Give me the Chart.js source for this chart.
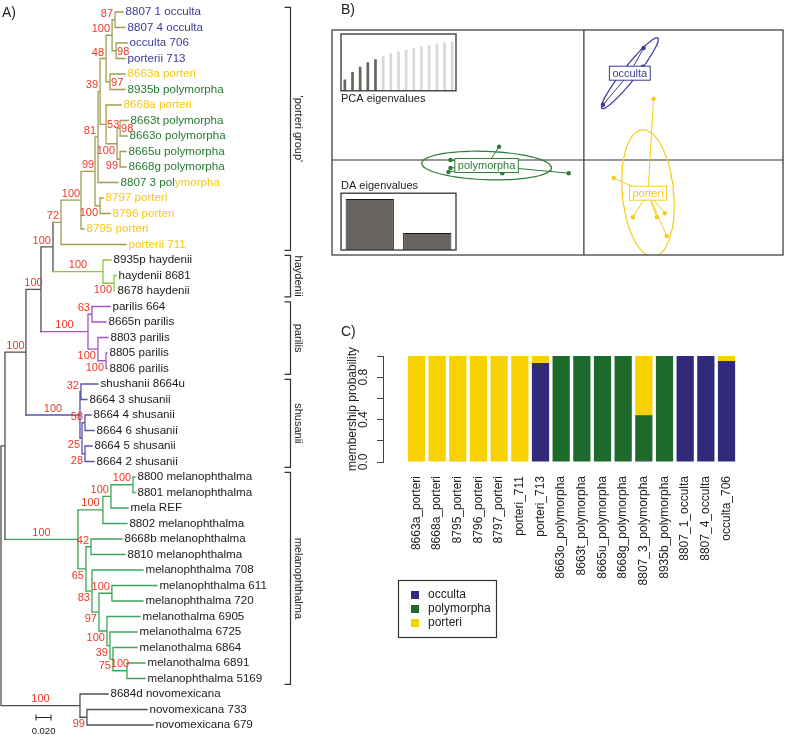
<!DOCTYPE html>
<html lang="en">
<head>
<meta charset="UTF-8">
<title>Tree, DAPC and membership</title>
<script src="https://cdn.jsdelivr.net/npm/chart.js"></script>
<style>
  body { margin: 0; background: #fff; }
  #page { position: relative; width: 787px; height: 738px; overflow: hidden; font-family: "Liberation Sans", Arial, sans-serif; }
  #page canvas { position: absolute; }
  .panel-tag { position: absolute; font-size: 14px; line-height: 14px; color: #222; }
</style>
</head>
<body>
<div id="page">
  <canvas id="treeChart" width="330" height="738" style="left:0;top:0"></canvas>
  <canvas id="dapcChart" width="487" height="290" style="left:300px;top:0"></canvas>
  <canvas id="pcaChart" width="117" height="74" style="left:340px;top:33px"></canvas>
  <canvas id="daChart" width="117" height="75" style="left:340px;top:176px"></canvas>
  <canvas id="memberChart" width="487" height="448" style="left:300px;top:290px"></canvas>
  <div class="panel-tag" style="left:2px;top:5px">A)</div>
  <div class="panel-tag" style="left:341px;top:2px">B)</div>
  <div class="panel-tag" style="left:341px;top:324px">C)</div>
</div>

<script>
// ---------- A) tree, newick by clade (branch lengths, bootstrap as node label) ----------
const cladePorteri = "((((((((8807_1_occulta:0.0107,8807_4_occulta:0.0133)87:0.004,(occulta_706:0.0147,porterii_713:0.012)98:0.0053)100:0.008,(8663a_porteri:0.02,8935b_polymorpha:0.02)97:0.0053)48:0.008,(8668a_porteri:0.02,((8663t_polymorpha:0.0107,8663o_polymorpha:0.0093)98:0.004,(8665u_polymorpha:0.008,8668g_polymorpha:0.008)99:0.004)100:0.0147)53:0.008)39:0.0027,8807_3_polymorpha:0.0267)81:0.004,(8797_porteri:0.004,8796_porteri:0.0133)100:0.0067)99:0.0187,8795_porteri:0.004)100:0.0267,porterii_711:0.0867)72:0.0107";
const cladeHaydenii = "(8935p_haydenii:0.0107,(haydenii_8681:0.0027,8678_haydenii:0.0013)100:0.0147)100:0.0667";
const cladeParilis = "((parilis_664:0.024,8665n_parilis:0.0187)63:0.0053,(8803_parilis:0.0133,(8805_parilis:0.0013,8806_parilis:0.0013)100:0.0107)100:0.0133)100:0.0627";
const cladeShusanii = "((shushanii_8664u:0.0227,8664_3_shusanii:0.008)32:0.0013,((8664_4_shusanii:0.008,8664_6_shusanii:0.012)58:0.004,(8664_5_shusanii:0.0093,8664_2_shusanii:0.012)28:0.004)25:0.0027)100:0.072";
const cladeMelano = "((((8800_melanophthalma:0.0027,8801_melanophthalma:0.0027)100:0.0293,mela_REF:0.0227)100:0.0107,8802_melanophthalma:0.032)100:0.0333,((8668b_melanophthalma:0.0413,8810_melanophthalma:0.0453)42:0.0067,(melanophthalma_708:0.068,((melanophthalma_611:0.06,melanophthalma_720:0.0413)100:0.0173,(melanothalma_6905:0.044,(melanothalma_6725:0.036,(melanothalma_6864:0.032,(melanothalma_6891:0.024,melanophthalma_5169:0.024)100:0.0187)75:0.004)39:0.004)100:0.0107)97:0.0093)83:0.008)65:0.0107)100:0.0973";
const cladeNovo = "(8684d_novomexicana:0.0373,(novomexicana_733:0.08,novomexicana_679:0.088)99:0.0093)100:0.1053";
const treeNewick = `(((((${cladePorteri},${cladeHaydenii})100:0.016,${cladeParilis})100:0.02,${cladeShusanii})100:0.028,${cladeMelano}):0.0053,${cladeNovo});`;

// bracketed clades on the right
const cladeNames = ["'porteri group'", 'haydenii', 'parilis', 'shusanii', 'melanophthalma'];
const cladeFirstTip = ['8807 1 occulta', '8935p haydenii', 'parilis 664', 'shushanii 8664u', '8800 melanophthalma'];
const cladeLastTip = ['porterii 711', '8678 haydenii', '8806 parilis', '8664 2 shusanii', 'melanophthalma 5169'];

// tip labels coloured by DAPC group
const tipsOcculta = ['8807 1 occulta', '8807 4 occulta', 'occulta 706', 'porterii 713'];
const tipsPolymorpha = ['8935b polymorpha', '8663t polymorpha', '8663o polymorpha', '8665u polymorpha', '8668g polymorpha', '8807 3 polymorpha'];
const tipsPorteri = ['8663a porteri', '8668a porteri', '8797 porteri', '8796 porteri', '8795 porteri', 'porterii 711'];

const scaleBarLength = 0.020;

// ---------- B) DAPC scatter ----------
const dapcGroups = ['occulta', 'polymorpha', 'porteri'];
const occultaLD1 = [1.50, 0.48, 1.48];
const occultaLD2 = [2.80, 1.38, 2.33];
const polymorphaLD1 = [-2.13, -3.35, -3.35, -3.40, -2.05, -0.38];
const polymorphaLD2 = [0.33, 0.00, -0.20, -0.30, -0.33, -0.33];
const porteriLD1 = [1.75, 0.75, 1.23, 1.83, 2.03, 2.08, 1.60];
const porteriLD2 = [1.53, -0.45, -1.43, -1.43, -1.33, -1.90, -0.80];
const pcaEig = [21.4, 36.6, 46.6, 55.4, 61.4, 68, 73.4, 76.6, 80, 83.4, 86.6, 89.4, 92, 94.6, 96.6];
const pcaRetained = 5;
const daEig = [42.1, 14.0];

// ---------- C) membership probabilities ----------
const sampleNames = ['8663a_porteri', '8668a_porteri', '8795_porteri', '8796_porteri', '8797_porteri', 'porteri_711', 'porteri_713',
  '8663o_polymorpha', '8663t_polymorpha', '8665u_polymorpha', '8668g_polymorpha', '8807_3_polymorpha', '8935b_polymorpha',
  '8807_1_occulta', '8807_4_occulta', 'occulta_706'];
const probOcculta    = [0, 0, 0.006, 0, 0, 0, 0.935, 0, 0, 0, 0, 0.01, 0, 1, 1, 0.953];
const probPolymorpha = [0, 0, 0, 0, 0, 0, 0, 1, 1, 1, 1, 0.432, 1, 0, 0, 0];
const probPorteri    = [1, 1, 0.994, 1, 1, 1, 0.065, 0, 0, 0, 0, 0.558, 0, 0, 0, 0.047];
const yTickValues = [0, 0.2, 0.4, 0.6, 0.8, 1.0];
const yLabelValues = [0, 0.4, 0.8];

// ---------- styles ----------
const FONT = '"Liberation Sans", Arial, sans-serif';
Chart.defaults.font.family = FONT;
Chart.defaults.color = '#222';
const branchColors = ['#a19d52', '#8cc83e', '#a652c2', '#5656a8', '#3ca55a'];
const backboneColor = '#505050';
const groupColors = { occulta: '#3d3a9b', polymorpha: '#2e7c36', porteri: '#f6cd1c' };
const tipColors = { occulta: '#3d3a9b', polymorpha: '#267a31', porteri: '#f7c80f' };
const barColors = { occulta: '#31297b', polymorpha: '#1c6b2c', porteri: '#f8d102' };
const supportColor = '#ee3626';

// ---------- tree parsing and layout ----------
function parseNewick(s) {
  let i = 0;
  function node() {
    const n = { kids: [] };
    if (s[i] === '(') {
      i++;
      n.kids.push(node());
      while (s[i] === ',') { i++; n.kids.push(node()); }
      i++;
    }
    let lab = '';
    while (i < s.length && !':,);'.includes(s[i])) lab += s[i++];
    n.len = 0;
    if (s[i] === ':') {
      i++;
      let num = '';
      while (i < s.length && !',);'.includes(s[i])) num += s[i++];
      n.len = parseFloat(num);
    }
    if (n.kids.length) n.support = lab ? Number(lab) : null;
    else n.name = lab.replace(/_/g, ' ');
    return n;
  }
  return node();
}

const tree = parseNewick(treeNewick);
const tips = [];
const nodes = [];
(function layout(n, parentX, isFirst) {
  n.parentX = parentX;
  n.x = parentX + n.len;
  n.isFirst = isFirst;
  if (!n.kids.length) {
    n.y = n.lo = n.hi = tips.length;
    tips.push(n);
  } else {
    n.kids.forEach((k, i) => layout(k, n.x, i === 0));
    const a = n.kids[0], b = n.kids[n.kids.length - 1];
    n.y = (a.y + b.y) / 2;
    n.lo = a.lo; n.hi = b.hi;
  }
  nodes.push(n);
})(tree, 0, true);

const tipIndex = name => tips.findIndex(t => t.name === name);
const cladeRanges = cladeNames.map((c, i) => ({ lo: tipIndex(cladeFirstTip[i]), hi: tipIndex(cladeLastTip[i]) }));
function nodeColor(n) {
  const c = cladeRanges.findIndex(r => n.lo >= r.lo && n.hi <= r.hi);
  return c < 0 ? backboneColor : branchColors[c];
}
function tipColor(name) {
  if (tipsOcculta.includes(name)) return tipColors.occulta;
  if (tipsPolymorpha.includes(name)) return tipColors.polymorpha;
  if (tipsPorteri.includes(name)) return tipColors.porteri;
  return '#1a1a1a';
}

const segByColor = {};
nodes.forEach(n => {
  const col = nodeColor(n);
  const arr = segByColor[col] = segByColor[col] || [];
  if (n !== tree) arr.push({ x: n.parentX, y: n.y }, { x: n.x, y: n.y }, { x: null, y: null });
  if (n.kids.length) arr.push({ x: n.x, y: n.kids[0].y }, { x: n.x, y: n.kids[n.kids.length - 1].y }, { x: null, y: null });
});

function overlaps(a, list) {
  return list.some(b => a.l < b.r && a.r > b.l && a.t < b.b && a.b > b.t);
}

const treeText = {
  id: 'treeText',
  afterDatasetsDraw(chart) {
    const { ctx, scales: { x, y } } = chart;
    ctx.save();
    // tip labels
    ctx.font = `11.6px ${FONT}`;
    ctx.textBaseline = 'middle';
    ctx.textAlign = 'left';
    tips.forEach(t => {
      const px = x.getPixelForValue(t.x) + 2.5, py = y.getPixelForValue(t.y);
      if (t.name === '8807 3 polymorpha') {
        const head = t.name.slice(0, 10);
        ctx.fillStyle = tipColors.polymorpha;
        ctx.fillText(head, px, py);
        ctx.fillStyle = tipColors.porteri;
        ctx.fillText(t.name.slice(10), px + ctx.measureText(head).width, py);
      } else {
        ctx.fillStyle = tipColor(t.name);
        ctx.fillText(t.name, px, py);
      }
    });
    // bootstrap values: centred on long branches, else beside the node avoiding earlier labels
    ctx.font = `11px ${FONT}`;
    ctx.fillStyle = supportColor;
    const placed = [];
    nodes.slice().reverse().forEach(n => {
      if (!n.kids.length || n.support == null || n === tree) return;
      const txt = String(n.support);
      const w = ctx.measureText(txt).width;
      const xn = x.getPixelForValue(n.x), xp = x.getPixelForValue(n.parentX), yn = y.getPixelForValue(n.y);
      let cx, cy, align;
      if (xn - xp >= 14) {
        cx = (xn + xp) / 2; cy = yn - 6.5; align = 'center';
        placed.push({ l: cx - w / 2, r: cx + w / 2, t: cy - 5, b: cy + 5 });
      } else {
        cy = n.isFirst ? yn - 6 : yn + 7;
        const box = { l: xn - 2 - w, r: xn - 2, t: cy - 5, b: cy + 5 };
        if (overlaps(box, placed)) {
          cx = xn + 1; cy = yn + 1; align = 'left';
          placed.push({ l: cx, r: cx + w, t: cy - 5, b: cy + 5 });
        } else {
          cx = xn - 2; align = 'right';
          placed.push(box);
        }
      }
      ctx.textAlign = align;
      ctx.fillText(txt, cx, cy);
    });
    // clade brackets
    ctx.strokeStyle = '#333';
    ctx.lineWidth = 1.2;
    ctx.fillStyle = '#222';
    ctx.textAlign = 'center';
    ctx.font = `11px ${FONT}`;
    cladeRanges.forEach((r, i) => {
      const y0 = y.getPixelForValue(r.lo - 0.3), y1 = y.getPixelForValue(r.hi + 0.38);
      const bx = 290.5;
      ctx.beginPath();
      ctx.moveTo(bx - 6, y0); ctx.lineTo(bx, y0); ctx.lineTo(bx, y1); ctx.lineTo(bx - 6, y1);
      ctx.stroke();
      ctx.save();
      ctx.translate(298, (y0 + y1) / 2);
      ctx.rotate(Math.PI / 2);
      ctx.fillText(cladeNames[i], 0, 0);
      ctx.restore();
    });
    // scale bar
    const sx0 = x.getPixelForValue(0.0467), sx1 = x.getPixelForValue(0.0467 + scaleBarLength);
    const sy = 717.5;
    ctx.strokeStyle = '#222';
    ctx.lineWidth = 1;
    ctx.beginPath();
    ctx.moveTo(sx0, sy); ctx.lineTo(sx1, sy);
    ctx.moveTo(sx0, sy - 3); ctx.lineTo(sx0, sy + 3);
    ctx.moveTo(sx1, sy - 3); ctx.lineTo(sx1, sy + 3);
    ctx.stroke();
    ctx.font = `9.5px ${FONT}`;
    ctx.fillText(scaleBarLength.toFixed(3), (sx0 + sx1) / 2, 731);
    ctx.restore();
  }
};

new Chart(document.getElementById('treeChart'), {
  type: 'line',
  data: {
    datasets: Object.keys(segByColor).map(col => ({
      data: segByColor[col],
      borderColor: col,
      borderWidth: 1.3,
      borderCapStyle: 'square',
      pointRadius: 0,
      spanGaps: false,
      tension: 0
    }))
  },
  options: {
    responsive: false,
    animation: false,
    layout: { padding: 0 },
    plugins: { legend: { display: false }, tooltip: { enabled: false } },
    scales: {
      x: { type: 'linear', display: false, min: -0.00133, max: 0.43867 },
      y: { type: 'linear', display: false, reverse: true, min: -0.774, max: 46.84 }
    }
  },
  plugins: [treeText]
});

// ---------- B) DAPC scatter ----------
function covEllipse(xs, ys, coeff) {
  const n = xs.length;
  const mx = xs.reduce((a, b) => a + b, 0) / n, my = ys.reduce((a, b) => a + b, 0) / n;
  let vx = 0, vy = 0, cxy = 0;
  for (let i = 0; i < n; i++) {
    const dx = xs[i] - mx, dy = ys[i] - my;
    vx += dx * dx; vy += dy * dy; cxy += dx * dy;
  }
  vx /= n; vy /= n; cxy /= n;
  const delta = Math.sqrt((vx - vy) * (vx - vy) + 4 * cxy * cxy);
  const l1 = Math.sqrt(Math.max((vx + vy + delta) / 2, 0));
  const l2 = Math.sqrt(Math.max((vx + vy - delta) / 2, 0));
  let a0, b0;
  if (Math.abs(cxy) < 1e-10) { a0 = vx > vy ? 1 : 0; b0 = vx > vy ? 0 : 1; }
  else { a0 = 1; b0 = (l1 * l1 - vx) / cxy; const nr = Math.hypot(a0, b0); a0 /= nr; b0 /= nr; }
  const pts = [];
  for (let i = 0; i <= 100; i++) {
    const t = 2 * Math.PI * i / 100, c = Math.cos(t), s = Math.sin(t);
    pts.push({ x: mx + coeff * (a0 * l1 * c - b0 * l2 * s), y: my + coeff * (b0 * l1 * c + a0 * l2 * s) });
  }
  return { mx, my, pts };
}

const groupLD = {
  occulta: [occultaLD1, occultaLD2],
  polymorpha: [polymorphaLD1, polymorphaLD2],
  porteri: [porteriLD1, porteriLD2]
};
const groupGeom = {};
const dapcDatasets = [];
dapcGroups.forEach(g => {
  const [xs, ys] = groupLD[g];
  const e = covEllipse(xs, ys, 1.5);
  groupGeom[g] = e;
  const star = [];
  xs.forEach((v, i) => star.push({ x: e.mx, y: e.my }, { x: v, y: ys[i] }, { x: null, y: null }));
  dapcDatasets.push(
    { data: e.pts, borderColor: groupColors[g], borderWidth: 1.2, pointRadius: 0, tension: 0 },
    { data: star, borderColor: groupColors[g], borderWidth: 1, pointRadius: 0, spanGaps: false, tension: 0 },
    { data: xs.map((v, i) => ({ x: v, y: ys[i] })), showLine: false, pointRadius: 2.2,
      pointBackgroundColor: groupColors[g], pointBorderWidth: 0 }
  );
});

const dapcDecor = {
  id: 'dapcDecor',
  beforeDatasetsDraw(chart) {
    const { ctx, chartArea: a, scales: { x, y } } = chart;
    ctx.save();
    ctx.fillStyle = '#fff';
    ctx.fillRect(a.left, a.top, a.width, a.height);
    ctx.strokeStyle = '#333';
    ctx.lineWidth = 1.2;
    const x0 = x.getPixelForValue(0), y0 = y.getPixelForValue(0);
    ctx.beginPath();
    ctx.moveTo(x0, a.top); ctx.lineTo(x0, a.bottom);
    ctx.moveTo(a.left, y0); ctx.lineTo(a.right, y0);
    ctx.stroke();
    ctx.restore();
  },
  afterDatasetsDraw(chart) {
    const { ctx, chartArea: a, scales: { x, y } } = chart;
    ctx.save();
    ctx.strokeStyle = '#333';
    ctx.lineWidth = 1.2;
    ctx.strokeRect(a.left, a.top, a.width, a.height);
    ctx.font = `11px ${FONT}`;
    ctx.textAlign = 'center';
    ctx.textBaseline = 'middle';
    dapcGroups.forEach(g => {
      const cx = x.getPixelForValue(groupGeom[g].mx), cy = y.getPixelForValue(groupGeom[g].my);
      const w = ctx.measureText(g).width + 6, h = 14;
      ctx.fillStyle = '#fff';
      ctx.fillRect(cx - w / 2, cy - h / 2, w, h);
      ctx.strokeStyle = groupColors[g];
      ctx.lineWidth = 1;
      ctx.strokeRect(cx - w / 2, cy - h / 2, w, h);
      ctx.fillStyle = groupColors[g];
      ctx.fillText(g, cx, cy + 0.5);
    });
    ctx.restore();
  }
};

new Chart(document.getElementById('dapcChart'), {
  type: 'line',
  data: { datasets: dapcDatasets },
  options: {
    responsive: false,
    animation: false,
    layout: { padding: { left: 32, top: 30, right: 2, bottom: 35 } },
    plugins: { legend: { display: false }, tooltip: { enabled: false } },
    scales: {
      x: { type: 'linear', display: false, min: -6.325, max: 5.0 },
      y: { type: 'linear', display: false, min: -2.375, max: 3.25 }
    }
  },
  plugins: [dapcDecor]
});

// inset frames
const insetFrame = {
  id: 'insetFrame',
  beforeDatasetsDraw(chart) {
    const { ctx, chartArea: a } = chart;
    ctx.save();
    ctx.fillStyle = '#fff';
    ctx.fillRect(a.left, a.top, a.width, a.height);
    ctx.restore();
  },
  afterDatasetsDraw(chart) {
    const { ctx, chartArea: a } = chart;
    ctx.save();
    ctx.strokeStyle = '#333';
    ctx.lineWidth = 1.3;
    ctx.strokeRect(a.left, a.top, a.width, a.height);
    ctx.restore();
  }
};

new Chart(document.getElementById('pcaChart'), {
  type: 'bar',
  data: {
    labels: pcaEig.map((v, i) => String(i + 1)),
    datasets: [{
      data: pcaEig,
      backgroundColor: pcaEig.map((v, i) => i < pcaRetained ? '#69635e' : '#d8d8d8'),
      barThickness: 2
    }]
  },
  options: {
    responsive: false,
    animation: false,
    layout: { padding: { top: 1, left: 1, right: 1, bottom: 0 } },
    plugins: {
      legend: { display: false }, tooltip: { enabled: false },
      title: { display: true, text: 'PCA eigenvalues', position: 'bottom', align: 'start',
               font: { size: 11, weight: 'normal' }, color: '#222', padding: { top: 2, bottom: 1 } }
    },
    scales: {
      x: { display: false, offset: true },
      y: { display: false, min: 0, max: 112 }
    }
  },
  plugins: [insetFrame]
});

new Chart(document.getElementById('daChart'), {
  type: 'bar',
  data: {
    labels: daEig.map((v, i) => String(i + 1)),
    datasets: [{
      data: daEig,
      backgroundColor: '#6a6460',
      borderColor: '#1a1a1a',
      borderWidth: 1,
      barPercentage: 0.84,
      categoryPercentage: 1
    }]
  },
  options: {
    responsive: false,
    animation: false,
    layout: { padding: { top: 0, left: 1, right: 1, bottom: 1 } },
    plugins: {
      legend: { display: false }, tooltip: { enabled: false },
      title: { display: true, text: 'DA eigenvalues', position: 'top', align: 'start',
               font: { size: 11, weight: 'normal' }, color: '#222', padding: { top: 3, bottom: 1 } }
    },
    scales: {
      x: { display: false },
      y: { display: false, min: 0, max: 47 }
    }
  },
  plugins: [insetFrame]
});

// ---------- C) membership barplot ----------
const barX = sampleNames.map((s, i) => 0.7 + 1.2 * i);
const memberProbs = { occulta: probOcculta, polymorpha: probPolymorpha, porteri: probPorteri };

const memberText = {
  id: 'memberText',
  afterDraw(chart) {
    const { ctx, scales: { y } } = chart;
    ctx.save();
    ctx.fillStyle = '#222';
    ctx.font = `12px ${FONT}`;
    ctx.textAlign = 'center';
    ctx.textBaseline = 'middle';
    yLabelValues.forEach(v => {
      ctx.save();
      ctx.translate(64, y.getPixelForValue(v));
      ctx.rotate(-Math.PI / 2);
      ctx.fillText(v.toFixed(1), 0, 0);
      ctx.restore();
    });
    // legend box
    const lx = 98, ly = 290, lw = 98, lh = 57;
    ctx.strokeStyle = '#333';
    ctx.lineWidth = 1.2;
    ctx.strokeRect(lx + 0.5, ly + 0.5, lw, lh);
    ctx.textAlign = 'left';
    chart.data.datasets.forEach((ds, i) => {
      const cy = ly + 15 + i * 14;
      ctx.fillStyle = ds.backgroundColor;
      ctx.fillRect(lx + 13, cy - 4, 8, 8);
      ctx.fillStyle = '#222';
      ctx.fillText(ds.label, lx + 30, cy);
    });
    ctx.restore();
  }
};

new Chart(document.getElementById('memberChart'), {
  type: 'bar',
  data: {
    datasets: dapcGroups.map(g => ({
      label: g,
      data: barX.map((v, i) => ({ x: v, y: memberProbs[g][i] })),
      backgroundColor: barColors[g],
      borderWidth: 0,
      barPercentage: 1 / 1.2,
      categoryPercentage: 1
    }))
  },
  options: {
    responsive: false,
    animation: false,
    layout: { padding: { top: 66, left: 36, right: 27, bottom: 0 } },
    plugins: { legend: { display: false }, tooltip: { enabled: false } },
    scales: {
      x: {
        type: 'linear', stacked: true, min: -0.56, max: 19.96,
        grid: { display: false }, border: { display: false },
        afterBuildTicks: s => { s.ticks = barX.map(v => ({ value: v })); },
        afterFit: s => { s.height = 276; },
        ticks: { autoSkip: false, minRotation: 90, maxRotation: 90, padding: 6, color: '#222',
                 font: { size: 12 }, callback: (v, i) => sampleNames[i] }
      },
      y: {
        stacked: true, min: 0, max: 1,
        afterBuildTicks: s => { s.ticks = yTickValues.map(v => ({ value: v })); },
        afterFit: s => { s.width = 47; },
        ticks: { display: false },
        grid: { drawOnChartArea: false, drawTicks: true, tickLength: 6, color: '#444', lineWidth: 1 },
        border: { display: true, color: '#444', width: 1 },
        title: { display: true, text: 'membership probability', color: '#222',
                 font: { size: 12 }, padding: { top: 9, bottom: 0 } }
      }
    }
  },
  plugins: [memberText]
});
</script>
</body>
</html>
